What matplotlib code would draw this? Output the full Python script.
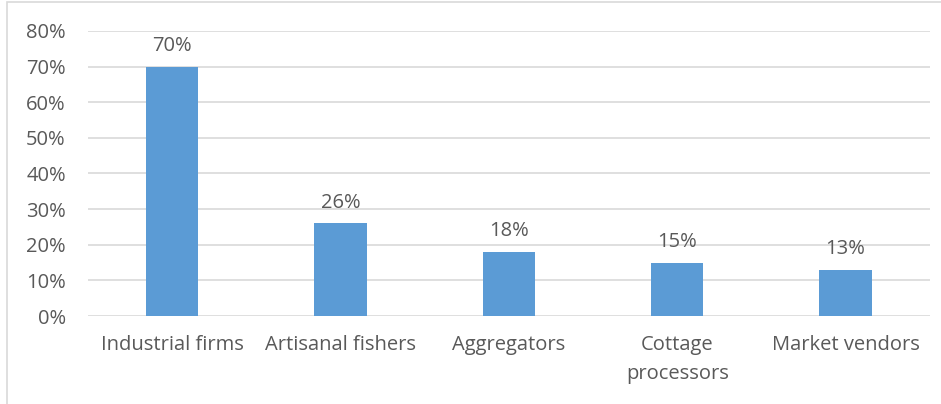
"""Bar chart of share by value-chain actor."""

import matplotlib
import matplotlib.pyplot as plt
from matplotlib.patches import Rectangle
from matplotlib.ticker import PercentFormatter

matplotlib.use("Agg")

categories = ["Industrial firms", "Artisanal fishers", "Aggregators",
              "Cottage\nprocessors", "Market vendors"]
shares = [70, 26, 18, 15, 13]
y_ticks = [0, 10, 20, 30, 40, 50, 60, 70, 80]

TEXT = "#595959"
GRID = "#d9d9d9"
BAR = "#5b9bd5"
FS = 14.5

plt.rcParams["font.family"] = ["Open Sans", "DejaVu Sans"]

fig = plt.figure(figsize=(9.41, 4.04), dpi=100)
ax = fig.add_axes([0.0935, 0.2178, 0.8945, 0.7055])

x = range(len(categories))
bars = ax.bar(x, shares, width=0.31, color=BAR, zorder=3)

for rect, val in zip(bars, shares):
    ax.annotate(f"{val}%", (rect.get_x() + rect.get_width() / 2, val),
                xytext=(0, 7.5), textcoords="offset points",
                ha="center", va="bottom", fontsize=FS, color=TEXT)

ax.set_ylim(0, 80)
ax.set_xlim(-0.5, len(categories) - 0.5)
ax.set_yticks(y_ticks)
ax.yaxis.set_major_formatter(PercentFormatter(decimals=0))
ax.set_xticks(list(x))
ax.set_xticklabels(categories, linespacing=1.55)
ax.tick_params(axis="both", length=0, labelsize=FS, labelcolor=TEXT)
ax.tick_params(axis="x", pad=14)
ax.tick_params(axis="y", pad=16)
ax.grid(axis="y", color=GRID, linewidth=1.2, zorder=0)
for side in ["top", "right", "left", "bottom"]:
    ax.spines[side].set_visible(False)

# chart frame
fig.patches.append(Rectangle((0.0074, -0.2), 1.2, 0.2 + 0.995,
                             transform=fig.transFigure, fill=False,
                             edgecolor=GRID, linewidth=1.2))

fig.savefig("out.png", dpi=100)
